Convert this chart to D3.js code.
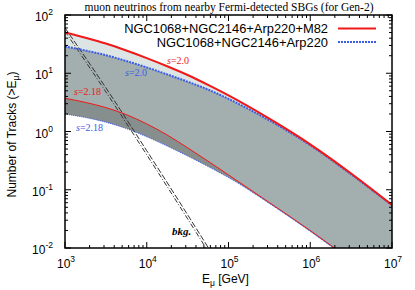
<!DOCTYPE html>
<html>
<head>
<meta charset="utf-8">
<script src="https://cdn.jsdelivr.net/npm/d3@7"></script>
<style>
  body { margin: 0; background: #fff; }
  svg { display: block; }
</style>
</head>
<body>
<svg id="chart"></svg>
<script>
// log10(E/GeV) grid
const logE = [3.0, 3.25, 3.5, 3.75, 4.0, 4.25, 4.5, 4.75, 5.0, 5.5, 6.0, 6.5, 7.0];
// log10 of number of tracks
const redUpper  = [1.70, 1.61, 1.51, 1.39, 1.26, 1.12, 0.97, 0.80, 0.62, 0.22, -0.22, -0.72, -1.26];
const blueUpper = [1.46, 1.39, 1.31, 1.21, 1.10, 0.98, 0.855, 0.72, 0.56, 0.19, -0.235, -0.735, -1.265];
const redLower  = [0.57, 0.50, 0.41, 0.29, 0.13, -0.06, -0.28, -0.51, -0.745, -1.22, -1.70, -2.21, -2.73];
const blueLower = [0.30, 0.24, 0.16, 0.05, -0.09, -0.25, -0.42, -0.60, -0.79, -1.235, -1.715, -2.225, -2.745];
// atmospheric background
const bkgE  = [3.0, 3.5, 4.0, 4.5, 4.8];
const bkg1  = [1.78, 0.75, -0.33, -1.43, -2.1];
const bkg2  = [1.72, 0.68, -0.40, -1.50, -2.17];

const xTicks = [1e3, 1e4, 1e5, 1e6, 1e7];
const yTicks = [1e-2, 1e-1, 1e0, 1e1, 1e2];
const legendNames = ["NGC1068+NGC2146+Arp220+M82", "NGC1068+NGC2146+Arp220"];

const W = 415, H = 290;
const pLeft = 65, pRight = 392, pTop = 15, pBottom = 248;
const RED = "#f01818", BLUE = "#3a5ce6";

const svg = d3.select("#chart").attr("width", W).attr("height", H);

const x = d3.scaleLog().domain([1e3, 1e7]).range([pLeft, pRight]);
const y = d3.scaleLog().domain([1e-2, 1e2]).range([pBottom, pTop]);

const pts = (es, ns) => es.map((e, i) => [Math.pow(10, e), Math.pow(10, ns[i])]);

svg.append("clipPath").attr("id", "plot")
  .append("rect").attr("x", pLeft).attr("y", pTop)
  .attr("width", pRight - pLeft).attr("height", pBottom - pTop);

const g = svg.append("g").attr("clip-path", "url(#plot)");

const line = d3.line().x(d => x(d[0])).y(d => y(d[1])).curve(d3.curveMonotoneX);
const band = d3.area()
  .x(d => x(d.e)).y0(d => y(d.lo)).y1(d => y(d.hi))
  .curve(d3.curveMonotoneX);

const bandData = (hi, lo) => logE.map((e, i) => ({
  e: Math.pow(10, e), hi: Math.pow(10, hi[i]), lo: Math.pow(10, lo[i])
}));

// blue band (3 SBGs) first, then the red band half transparent on top
g.append("path").attr("d", band(bandData(blueUpper, blueLower)))
  .attr("fill", "#868e8e");
g.append("path").attr("d", band(bandData(redUpper, redLower)))
  .attr("fill", "rgb(190,204,204)").attr("fill-opacity", 0.52);

// background lines
g.append("path").attr("d", line(pts(bkgE, bkg1)))
  .attr("fill", "none").attr("stroke", "#333").attr("stroke-width", 1)
  .attr("stroke-dasharray", "6,2");
g.append("path").attr("d", line(pts(bkgE, bkg2)))
  .attr("fill", "none").attr("stroke", "#333").attr("stroke-width", 1)
  .attr("stroke-dasharray", "5,2,1,2");

// curves
g.append("path").attr("d", line(pts(logE, redLower)))
  .attr("fill", "none").attr("stroke", RED).attr("stroke-width", 1);
g.append("path").attr("d", line(pts(logE, blueLower)))
  .attr("fill", "none").attr("stroke", BLUE).attr("stroke-width", 1)
  .attr("stroke-dasharray", "1,1");
g.append("path").attr("d", line(pts(logE, blueUpper)))
  .attr("fill", "none").attr("stroke", BLUE).attr("stroke-width", 2)
  .attr("stroke-dasharray", "2,1");
g.append("path").attr("d", line(pts(logE, redUpper)))
  .attr("fill", "none").attr("stroke", RED).attr("stroke-width", 2);

// frame + ticks (inward on all sides)
const minorOf = (lo, hi) => {
  const out = [];
  for (let d = lo; d < hi; d *= 10)
    for (let k = 2; k <= 9; k++) out.push(d * k);
  return out;
};
const xMinor = minorOf(1e3, 1e7), yMinor = minorOf(1e-2, 1e2);

const axisG = svg.append("g").attr("stroke", "#000").attr("stroke-width", 1);
const tick = (sel, data, len, side) => {
  sel.selectAll(null).data(data).enter().append("line")
    .attr("x1", d => side === "b" || side === "t" ? x(d) : (side === "l" ? pLeft : pRight))
    .attr("x2", d => side === "b" || side === "t" ? x(d) : (side === "l" ? pLeft + len : pRight - len))
    .attr("y1", d => side === "l" || side === "r" ? y(d) : (side === "b" ? pBottom : pTop))
    .attr("y2", d => side === "l" || side === "r" ? y(d) : (side === "b" ? pBottom - len : pTop + len));
};
["b", "t"].forEach(s => { tick(axisG, xTicks, 6, s); tick(axisG, xMinor, 3, s); });
["l", "r"].forEach(s => { tick(axisG, yTicks, 6, s); tick(axisG, yMinor, 3, s); });

svg.append("rect").attr("x", pLeft).attr("y", pTop)
  .attr("width", pRight - pLeft).attr("height", pBottom - pTop)
  .attr("fill", "none").attr("stroke", "#000").attr("stroke-width", 1.5);

// tick labels
const sans = "'Liberation Sans', Arial, Helvetica, sans-serif";
const serif = "'Liberation Serif', 'Times New Roman', serif";

const xl = svg.selectAll(".xl").data(xTicks).enter().append("text")
  .attr("x", d => x(d) + 1).attr("y", 268)
  .attr("text-anchor", "middle").attr("font-family", sans).attr("font-size", 12);
xl.append("tspan").text("10");
xl.append("tspan").attr("dy", -6).attr("font-size", 8.5).text(d => Math.round(Math.log10(d)));

const yl = svg.selectAll(".yl").data(yTicks).enter().append("text")
  .attr("x", 53).attr("y", d => y(d) + 6)
  .attr("text-anchor", "end").attr("font-family", sans).attr("font-size", 12);
yl.append("tspan").text("10");
yl.append("tspan").attr("dy", -6).attr("font-size", 8.5).text(d => Math.round(Math.log10(d)));

// axis titles
const xt = svg.append("text").attr("x", 202).attr("y", 283)
  .attr("font-family", sans).attr("font-size", 12);
xt.append("tspan").text("E");
xt.append("tspan").attr("dy", 3).attr("font-size", 8.5).text("μ");
xt.append("tspan").attr("dy", -3).text(" [GeV]");

const yt = svg.append("text")
  .attr("transform", `translate(16,${(pTop + pBottom) / 2 + 3}) rotate(-90)`)
  .attr("text-anchor", "middle").attr("font-family", sans).attr("font-size", 12);
yt.append("tspan").text("Number of Tracks (>E");
yt.append("tspan").attr("dy", 3).attr("font-size", 8.5).text("μ");
yt.append("tspan").attr("dy", -3).text(")");

// title
svg.append("text").attr("x", 229).attr("y", 11).attr("text-anchor", "middle")
  .attr("font-family", serif).attr("font-size", 11.5)
  .text("muon neutrinos from nearby Fermi-detected SBGs (for Gen-2)");

// legend
const legY = [28.5, 42];
svg.selectAll(".leg").data(legendNames).enter().append("text")
  .attr("x", 328).attr("y", (d, i) => legY[i] + 4.5)
  .attr("text-anchor", "end").attr("font-family", sans).attr("font-size", 12.9)
  .text(d => d);
svg.append("line").attr("x1", 338).attr("x2", 376).attr("y1", legY[0]).attr("y2", legY[0])
  .attr("stroke", RED).attr("stroke-width", 2);
svg.append("line").attr("x1", 338).attr("x2", 376).attr("y1", legY[1]).attr("y2", legY[1])
  .attr("stroke", BLUE).attr("stroke-width", 2).attr("stroke-dasharray", "2,1");

// curve labels
const curveLabels = [
  { x: 167, y: 64, c: RED, t: "=2.0" },
  { x: 125, y: 76, c: BLUE, t: "=2.0" },
  { x: 74, y: 95, c: RED, t: "=2.18" },
  { x: 76, y: 131, c: BLUE, t: "=2.18" }
];
curveLabels.forEach(l => {
  const t = svg.append("text").attr("x", l.x).attr("y", l.y)
    .attr("fill", l.c).attr("font-family", serif).attr("font-size", 10);
  t.append("tspan").attr("font-style", "italic").text("s");
  t.append("tspan").text(l.t);
});

svg.append("text").attr("x", 172).attr("y", 235)
  .attr("font-family", serif).attr("font-size", 11)
  .attr("font-style", "italic").attr("font-weight", "bold").text("bkg.");
</script>
</body>
</html>
